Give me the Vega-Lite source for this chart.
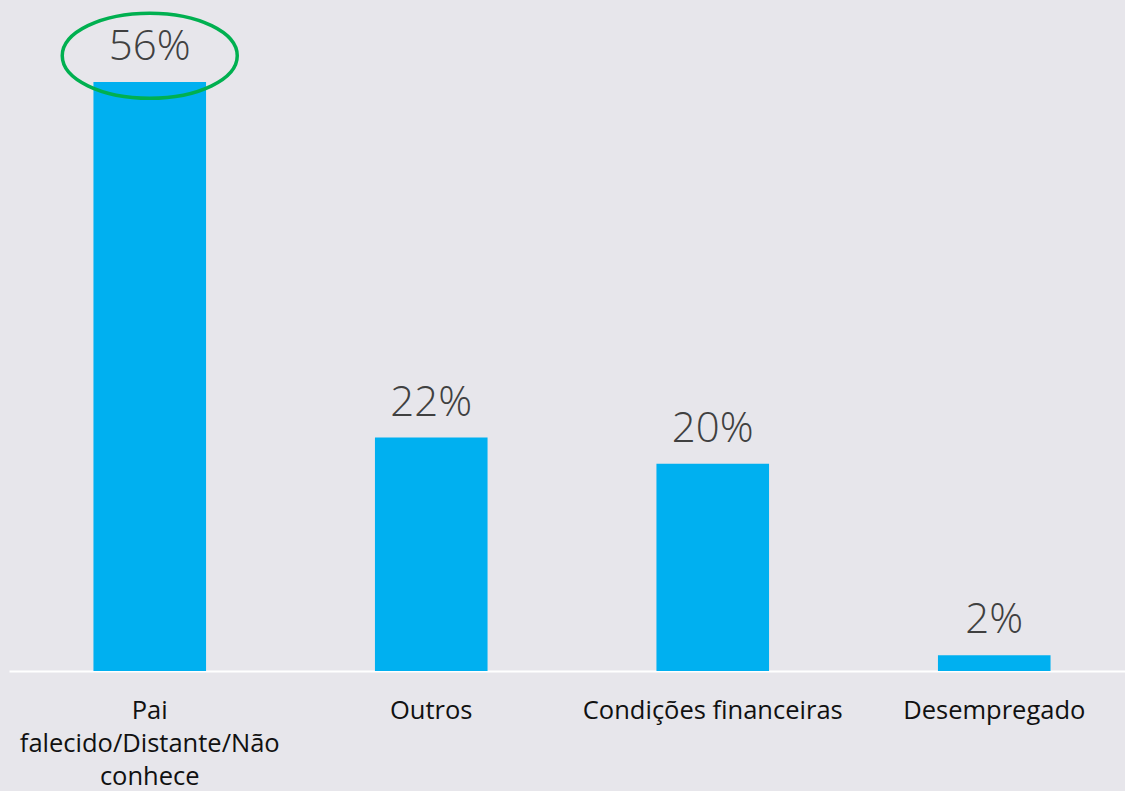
{
  "$schema": "https://vega.github.io/schema/vega-lite/v6.json",
  "width": 1126,
  "height": 671,
  "padding": {"left": 9, "top": 0, "right": 0, "bottom": 120},
  "autosize": {"type": "none"},
  "background": "#E7E6EB",
  "config": {"view": {"stroke": null}, "font": "Open Sans"},
  "layer": [
    {
      "data": {"values": [
        {"category": "Pai falecido/Distante/Não conhece", "value": 56, "label": "56%"},
        {"category": "Outros", "value": 22.2, "label": "22%"},
        {"category": "Condições financeiras", "value": 19.7, "label": "20%"},
        {"category": "Desempregado", "value": 1.5, "label": "2%"}
      ]},
      "encoding": {
        "x": {"field": "category", "type": "nominal", "sort": null,
          "scale": {"paddingInner": 0.6, "paddingOuter": 0.3},
          "axis": {"title": null, "domainColor": "#FFFFFF", "domainWidth": 2, "ticks": false,
            "labelAngle": 0, "labelFontSize": 25.5, "labelColor": "#111111", "labelPadding": 27,
            "labelLineHeight": 33, "labelLimit": 400,
            "labelExpr": "datum.value == 'Pai falecido/Distante/Não conhece' ? ['Pai', 'falecido/Distante/Não', 'conhece'] : datum.value"}},
        "y": {"field": "value", "type": "quantitative", "scale": {"domain": [0, 63.8], "nice": false}, "axis": null}
      },
      "layer": [
        {"mark": {"type": "bar", "color": "#00B0F0"}},
        {"mark": {"type": "text", "baseline": "bottom", "dy": -13, "fontSize": 42, "fontWeight": 300, "color": "#404040"},
          "encoding": {"text": {"field": "label"}}}
      ]
    },
    {
      "data": {"values": [{"category": "Pai falecido/Distante/Não conhece", "y": 58.5}]},
      "mark": {"type": "point", "shape": "M -1,0 A 1,0.486 0 1,0 1,0 A 1,0.486 0 1,0 -1,0 Z", "size": 30625,
        "filled": false, "stroke": "#00B050", "strokeWidth": 3.5, "opacity": 1},
      "encoding": {
        "x": {"field": "category", "type": "nominal", "sort": null},
        "y": {"field": "y", "type": "quantitative"}
      }
    }
  ]
}
